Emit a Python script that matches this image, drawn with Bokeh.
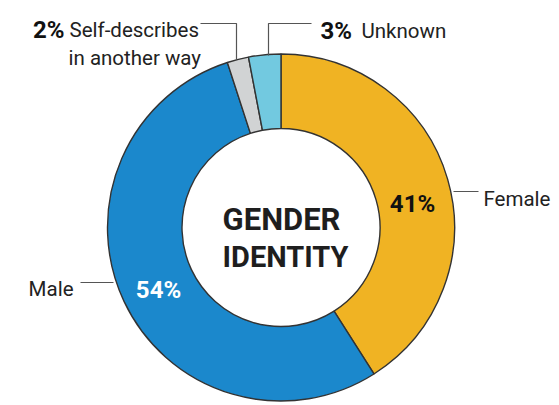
import numpy as np
from bokeh.plotting import figure
from bokeh.models import Range1d, ColumnDataSource
from bokeh.core.properties import value
from bokeh.embed import file_html
from bokeh.resources import INLINE

# ---- data ----
categories = ["Female", "Male", "Self-describes in another way", "Unknown"]
shares = [41, 54, 2, 3]
colors = ["#F0B323", "#1B88CC", "#D1D3D4", "#72C9E0"]
center_title = ["GENDER", "IDENTITY"]

W, H = 559, 405
FONT = "Roboto"

p = figure(width=W, height=H, x_range=Range1d(0, W), y_range=Range1d(0, H),
           output_backend="svg", toolbar_location=None, min_border=0)
p.axis.visible = False
p.grid.visible = False
p.outline_line_color = None
p.background_fill_color = "white"
p.border_fill_color = "white"

def Y(py):
    return H - py

cx, cy = 280.5, Y(227)
R_out, R_in = 173.5, 99

total = float(sum(shares))
cum = np.cumsum([0] + shares) / total
start = np.pi / 2 - 2 * np.pi * cum[:-1]
end = np.pi / 2 - 2 * np.pi * cum[1:]
src = ColumnDataSource(dict(start=start, end=end, color=colors, cat=categories))
p.annular_wedge(x=cx, y=cy, inner_radius=R_in, outer_radius=R_out,
                start_angle="start", end_angle="end", direction="clock",
                fill_color="color", line_color="#333333", line_width=1.4, source=src)

# leader lines
lc = "#555555"
p.line([200, 236, 236], [Y(23), Y(23), Y(59)], line_color=lc, line_width=1.2)
p.line([311, 268, 268], [Y(23), Y(23), Y(55)], line_color=lc, line_width=1.2)
p.line([453, 478], [Y(191), Y(191)], line_color=lc, line_width=1.2)
p.line([80, 113], [Y(282), Y(282)], line_color=lc, line_width=1.2)

pct = [f"{v}%" for v in shares]
dark = "#222222"

def txt(x, y, s, size, bold=False, color=dark, align="left"):
    p.text(x=[x], y=[Y(y)], text=[s], text_font=value(FONT),
           text_font_size=f"{size}px", text_font_style="bold" if bold else "normal",
           text_color=color, text_align=align, text_baseline="alphabetic")

# outer labels
txt(64, 29, pct[2], 24, bold=True, color="#111111", align="right")
txt(69, 29, "Self-describes", 20.5)
txt(68, 57, "in another way", 20.5)
txt(320, 30, pct[3], 24, bold=True, color="#111111")
txt(361, 30, categories[3], 20.5)
txt(483, 198, categories[0], 20.5)
txt(73, 288, categories[1], 20.5, align="right")

# in-ring percentages
txt(412, 203, pct[0], 24, bold=True, color="#111111", align="center")
txt(158, 289, pct[1], 24, bold=True, color="white", align="center")

# center title
txt(281, 219, center_title[0], 31, bold=True, color="#1e1e1e", align="center")
txt(285, 256, center_title[1], 29, bold=True, color="#1e1e1e", align="center")

open("out.html", "w").write(file_html(p, INLINE))
